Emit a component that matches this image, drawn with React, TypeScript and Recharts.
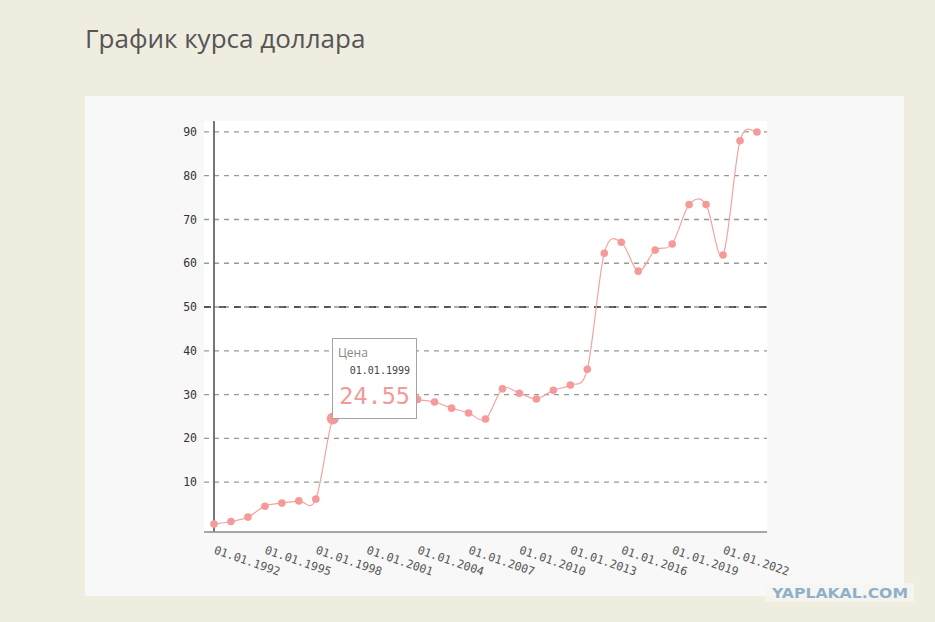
import React from 'react';
import { LineChart, Line, XAxis, YAxis, CartesianGrid, ReferenceLine, Tooltip } from 'recharts';

const years = [1992, 1993, 1994, 1995, 1996, 1997, 1998, 1999, 2000, 2001, 2002, 2003, 2004, 2005, 2006, 2007, 2008, 2009, 2010, 2011, 2012, 2013, 2014, 2015, 2016, 2017, 2018, 2019, 2020, 2021, 2022, 2023, 2024];
const prices = [0.4, 1.0, 2.0, 4.5, 5.2, 5.7, 6.1, 24.55, 27.5, 28.5, 29.8, 30.2, 28.9, 28.3, 26.9, 25.8, 24.4, 31.3, 30.3, 29.0, 31.0, 32.2, 35.8, 62.3, 64.8, 58.2, 63.0, 64.4, 73.4, 73.4, 61.9, 88.0, 90.0];
const xTicks = [1992, 1995, 1998, 2001, 2004, 2007, 2010, 2013, 2016, 2019, 2022];
const yTicks = [10, 20, 30, 40, 50, 60, 70, 80, 90];
const activeIndex = 7;

const data = years.map((year, i) => ({ year, value: prices[i] }));

const MONO = '"DejaVu Sans Mono", monospace';

// Cardinal (Catmull-Rom like) curve factory, tension 0
const cardinal = (context: any) => {
  let pts: number[][] = [];
  return {
    areaStart() {},
    areaEnd() {},
    lineStart() { pts = []; },
    point(x: number, y: number) { pts.push([+x, +y]); },
    lineEnd() {
      const n = pts.length;
      if (!n) return;
      context.moveTo(pts[0][0], pts[0][1]);
      const k = 1 / 6;
      for (let i = 0; i < n - 1; i++) {
        const p0 = pts[i - 1] || pts[i];
        const p1 = pts[i];
        const p2 = pts[i + 1];
        const p3 = pts[i + 2] || p2;
        context.bezierCurveTo(
          p1[0] + k * (p2[0] - p0[0]), p1[1] + k * (p2[1] - p0[1]),
          p2[0] - k * (p3[0] - p1[0]), p2[1] - k * (p3[1] - p1[1]),
          p2[0], p2[1]
        );
      }
    },
  };
};

const XTick = (props: any) => {
  const { x, y, payload } = props;
  const tx = x + 2;
  return (
    <text x={tx} y={y} transform={`rotate(19, ${tx}, ${y})`} textAnchor="start" dominantBaseline="hanging"
      fontFamily={MONO} fontSize={11.5} fill="#555">
      {`01.01.${payload.value}`}
    </text>
  );
};

const TipContent = (props: any) => {
  const { active, payload } = props;
  if (!active || !payload || !payload.length) return null;
  const p = payload[0].payload;
  return (
    <div style={{ width: 85, height: 81, boxSizing: 'border-box', border: '1px solid #a3a3a3', background: '#fff', position: 'relative' }}>
      <div style={{ position: 'absolute', left: 5, top: 5, fontSize: 12, color: '#888', fontFamily: '"Open Sans", sans-serif', whiteSpace: 'nowrap' }}>Цена</div>
      <div style={{ position: 'absolute', right: 6, top: 26, fontSize: 10, color: '#444', fontFamily: MONO, whiteSpace: 'nowrap' }}>{`01.01.${p.year}`}</div>
      <div style={{ position: 'absolute', right: 6, top: 43, fontSize: 23.5, lineHeight: 'normal', color: '#f29a98', fontFamily: MONO, whiteSpace: 'nowrap' }}>{p.value.toFixed(2)}</div>
    </div>
  );
};

export default function App() {
  return (
    <div style={{ position: 'absolute', left: 0, top: 0, width: 935, height: 622, background: '#efece0', overflow: 'hidden' }}>
      <svg style={{ position: 'absolute', left: 0, top: 0 }} width={935} height={70}>
        <text x={85} y={48} fontFamily='"Open Sans", sans-serif' fontSize={26} fill="#555">График курса доллара</text>
      </svg>
      <div style={{ position: 'absolute', left: 85, top: 96, width: 819, height: 500, background: '#f8f8f8' }}>
        <LineChart width={819} height={500} data={data} margin={{ top: 25, right: 137, left: 0, bottom: 0 }}>
          <CartesianGrid vertical={false} horizontalValues={yTicks} fill="#ffffff" stroke="#999" strokeWidth={1.3} strokeDasharray="5 5" />
          <XAxis dataKey="year" type="number" domain={[1992, 2024]} padding={{ left: 10, right: 10 }}
            ticks={xTicks} interval={0} tickLine={false} tickSize={0} tickMargin={13}
            axisLine={{ stroke: '#8a8a8a', strokeWidth: 1.6 }} height={64} tick={<XTick />} />
          <YAxis type="number" domain={[-1.4, 92.5]} ticks={yTicks} width={119} axisLine={false} tickLine={false}
            tickSize={0} tickMargin={7} allowDataOverflow
            tick={{ fontFamily: MONO, fontSize: 11.5, fill: '#333' }} />
          <ReferenceLine y={50} stroke="#333" strokeWidth={1.3} strokeDasharray="7 8" />
          <ReferenceLine x={1992} stroke="#555" strokeWidth={1.6} />
          <Tooltip defaultIndex={activeIndex} cursor={false} isAnimationActive={false}
            position={{ x: 247, y: 242 }} content={<TipContent />} />
          <Line type={cardinal as any} dataKey="value" stroke="#f2a3a3" strokeWidth={1.2}
            dot={{ r: 3.8, fill: '#f59a98', stroke: 'none' }}
            activeDot={{ r: 6, fill: '#f59a98', stroke: 'none' }}
            isAnimationActive={false} />
        </LineChart>
      </div>
      <div style={{ position: 'absolute', left: 765, top: 583, width: 149, height: 19, background: 'rgba(245,245,240,0.8)' }}>
        <svg width={149} height={19} style={{ display: 'block' }}>
          <text x={7} y={15} fontFamily='"DejaVu Sans", sans-serif' fontWeight="bold" fontSize={14}
            fill="#8fb0c9" textLength={136} lengthAdjust="spacingAndGlyphs">YAPLAKAL.COM</text>
        </svg>
      </div>
    </div>
  );
}
